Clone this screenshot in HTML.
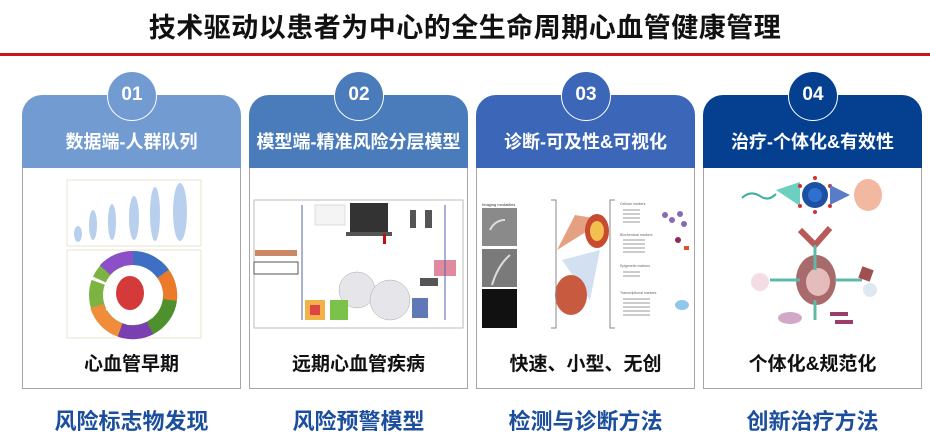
<!DOCTYPE html>
<html><head><meta charset="utf-8"><style>
*{margin:0;padding:0;box-sizing:border-box}
body{width:930px;height:442px;background:#fff;position:relative;overflow:hidden;font-family:"Liberation Sans","Noto Sans CJK SC",sans-serif}
.title{position:absolute;left:0;width:930px;top:6px;text-align:center;font-size:27px;font-weight:bold;color:#111;letter-spacing:0.5px}
.red{position:absolute;left:0;top:53px;width:930px;height:3px;background:#c8161d}
.card{position:absolute;top:95px;width:219px;height:294px}
.hd{position:absolute;left:0;top:0;width:100%;height:74px;border-radius:20px 20px 0 0;color:#fff;font-weight:bold;font-size:18px;text-align:center;padding-top:33px}
.bd{position:absolute;left:0;top:73px;width:100%;height:221px;border:1px solid #a6a6a6;border-top:none;background:#fff}
.circ{position:absolute;left:85px;top:-24px;width:50px;height:50px;border-radius:50%;border:1.5px solid #fff;color:#fff;font-weight:bold;font-size:19px;text-align:center;line-height:46px}
.lab{position:absolute;left:0;width:100%;top:254px;text-align:center;font-size:19px;font-weight:bold;color:#111}
.blue{position:absolute;top:404px;width:219px;text-align:center;font-size:22px;font-weight:bold;color:#1c4e9e}
svg{position:absolute}
</style></head><body>
<div class="title">技术驱动以患者为中心的全生命周期心血管健康管理</div>
<div class="red"></div>

<div class="card" style="left:22px"><div class="hd" style="background:#729bd2">数据端-人群队列</div><div class="bd"></div><div class="circ" style="background:#729bd2">01</div><div class="lab">心血管早期</div></div>
<div class="card" style="left:249px"><div class="hd" style="background:#4a7bba">模型端-精准风险分层模型</div><div class="bd"></div><div class="circ" style="background:#4a7bba">02</div><div class="lab">远期心血管疾病</div></div>
<div class="card" style="left:476px"><div class="hd" style="background:#3c66b8">诊断-可及性&amp;可视化</div><div class="bd"></div><div class="circ" style="background:#3c66b8">03</div><div class="lab">快速、小型、无创</div></div>
<div class="card" style="left:703px"><div class="hd" style="background:#053f8f">治疗-个体化&amp;有效性</div><div class="bd"></div><div class="circ" style="background:#053f8f">04</div><div class="lab">个体化&amp;规范化</div></div>

<!-- card1 images -->
<svg style="left:0;top:0" width="930" height="442">
<rect x="67" y="180" width="134" height="66" fill="#fff" stroke="#e8e4cc"/>
<g fill="#b8cfee">
<ellipse cx="78" cy="234" rx="4" ry="8"/><ellipse cx="93" cy="225" rx="4" ry="15"/><ellipse cx="112" cy="222" rx="4" ry="18"/><ellipse cx="134" cy="218" rx="5" ry="22"/><ellipse cx="155" cy="214" rx="5" ry="27"/><ellipse cx="180" cy="212" rx="7" ry="29"/>
</g>
<rect x="67" y="250" width="134" height="88" fill="#fff" stroke="#e8e4cc"/>
<g stroke-width="14" fill="none">
<circle cx="133" cy="295" r="37" stroke="#7cb342" stroke-dasharray="30 3"/>
</g>
<path d="M133 258 A37 37 0 0 1 163 274" stroke="#3f6fc4" stroke-width="14" fill="none"/>
<path d="M163 274 A37 37 0 0 1 170 300" stroke="#ec7a2a" stroke-width="14" fill="none"/>
<path d="M170 300 A37 37 0 0 1 150 328" stroke="#4e8f2e" stroke-width="14" fill="none"/>
<path d="M150 328 A37 37 0 0 1 120 330" stroke="#7a3fb0" stroke-width="14" fill="none"/>
<path d="M120 330 A37 37 0 0 1 97 306" stroke="#f08c3a" stroke-width="14" fill="none"/>
<path d="M105 270 A37 37 0 0 1 133 258" stroke="#8c4fc8" stroke-width="14" fill="none"/>
<ellipse cx="130" cy="293" rx="14" ry="17" fill="#d43a3a"/>
<!-- card2 -->
<rect x="254" y="200" width="209" height="128" fill="#fff" stroke="#bbb"/>
<rect x="254" y="262" width="44" height="12" fill="#fff" stroke="#555"/>
<rect x="255" y="250" width="42" height="6" fill="#c86"/>
<rect x="315" y="205" width="30" height="20" fill="#f4f4f4" stroke="#ddd"/>
<path d="M350 203 H388 V232 H350 Z" fill="#333"/><rect x="346" y="232" width="46" height="4" fill="#555"/>
<rect x="383" y="234" width="3" height="10" fill="#b11"/>
<g fill="#e6e6ea" stroke="#aaa" stroke-width="0.5"><circle cx="357" cy="290" r="18"/><circle cx="390" cy="300" r="20"/></g>
<g fill="#555"><rect x="410" y="210" width="6" height="18"/><rect x="425" y="210" width="7" height="18"/><rect x="420" y="278" width="18" height="8"/><rect x="412" y="298" width="16" height="20" fill="#6077b8"/></g>
<rect x="434" y="260" width="22" height="16" fill="#e08aa0"/>
<path d="M302 205 V320 M445 205 V320" stroke="#5566aa" stroke-width="1" fill="none"/>
<rect x="305" y="300" width="20" height="20" fill="#f2b24a"/><rect x="310" y="305" width="10" height="10" fill="#d44"/>
<rect x="330" y="300" width="18" height="20" fill="#7bc24a"/>
<!-- card3 -->
<text x="482" y="206" font-size="4" fill="#333" font-family="Liberation Sans">Imaging modalities</text>
<rect x="482" y="208" width="35" height="38" fill="#8a8a8a"/>
<rect x="482" y="249" width="35" height="38" fill="#7a7a7a"/>
<rect x="482" y="289" width="35" height="39" fill="#111"/>
<path d="M490 230 Q495 220 505 220 M492 285 Q498 265 510 255" stroke="#ddd" stroke-width="2" fill="none"/>
<path d="M557 250 L575 215 L605 220 Z" fill="#e4a080"/>
<ellipse cx="597" cy="231" rx="12" ry="17" fill="#c84a30"/><ellipse cx="597" cy="231" rx="7" ry="10" fill="#f2c050"/>
<path d="M562 260 L600 250 L590 300 Z" fill="#c7d8ee" opacity="0.8"/>
<ellipse cx="571" cy="295" rx="16" ry="20" fill="#c85a40"/>
<g fill="#666" font-size="3.5" font-family="Liberation Sans">
<text x="620" y="205">Cellular markers</text><text x="620" y="236">Biochemical markers</text><text x="620" y="267">Epigenetic markers</text><text x="620" y="294">Transcriptional markers</text>
</g>
<g stroke="#bbb" stroke-width="1.5"><path d="M623 210 H640 M623 214 H640 M623 218 H640 M623 222 H640 M623 240 H645 M623 244 H645 M623 248 H645 M623 252 H645 M623 272 H640 M623 276 H640 M623 299 H650 M623 303 H650 M623 307 H650 M623 311 H650 M623 315 H650"/></g>
<g fill="#8a6ab8"><circle cx="665" cy="215" r="3"/><circle cx="672" cy="220" r="3"/><circle cx="680" cy="214" r="3"/><circle cx="684" cy="224" r="3"/></g>
<circle cx="678" cy="240" r="3" fill="#8b2b5a"/><rect x="684" y="246" width="5" height="4" fill="#e05030"/>
<ellipse cx="682" cy="305" rx="7" ry="5" fill="#8fc8ec"/>
<path d="M551 200 H556 V328 H551 M615 200 H610 V328 H615" stroke="#888" fill="none"/>
<!-- card4 -->
<path d="M742 198 Q750 190 760 196 Q768 202 776 194" stroke="#3bb0a0" stroke-width="2" fill="none"/>
<path d="M776 190 L800 182 L800 206 Z" fill="#6ccfc0"/>
<circle cx="815" cy="195" r="13" fill="#1d4fa2"/><circle cx="815" cy="195" r="7" fill="#2f6fd0"/>
<g fill="#c33"><circle cx="815" cy="178" r="2"/><circle cx="815" cy="212" r="2"/><circle cx="800" cy="186" r="2"/><circle cx="830" cy="186" r="2"/><circle cx="800" cy="206" r="2"/><circle cx="830" cy="206" r="2"/></g>
<path d="M830 185 L850 195 L830 205 Z" fill="#5a7cc8"/>
<ellipse cx="868" cy="195" rx="14" ry="16" fill="#f2b8a0"/>
<path d="M800 230 L815 245 L830 228" stroke="#b85a5a" stroke-width="6" fill="none"/>
<ellipse cx="816" cy="280" rx="20" ry="25" fill="#a86a6a"/>
<ellipse cx="818" cy="282" rx="12" ry="14" fill="#e4bcbc"/>
<path d="M815 245 V270 M770 280 H800 M835 280 H862 M815 300 V320" stroke="#5fb8a8" stroke-width="3"/>
<circle cx="760" cy="282" r="9" fill="#f4dce4"/>
<rect x="860" y="268" width="12" height="12" fill="#a05050" transform="rotate(20 866 274)"/>
<circle cx="870" cy="290" r="7" fill="#dde8f0"/>
<ellipse cx="790" cy="318" rx="12" ry="6" fill="#d0a8c8"/>
<g fill="#9b3c6a"><rect x="830" y="312" width="18" height="4"/><rect x="835" y="320" width="18" height="4"/></g>
</svg>

<div class="blue" style="left:22px">风险标志物发现</div>
<div class="blue" style="left:249px">风险预警模型</div>
<div class="blue" style="left:476px">检测与诊断方法</div>
<div class="blue" style="left:703px">创新治疗方法</div>
</body></html>
